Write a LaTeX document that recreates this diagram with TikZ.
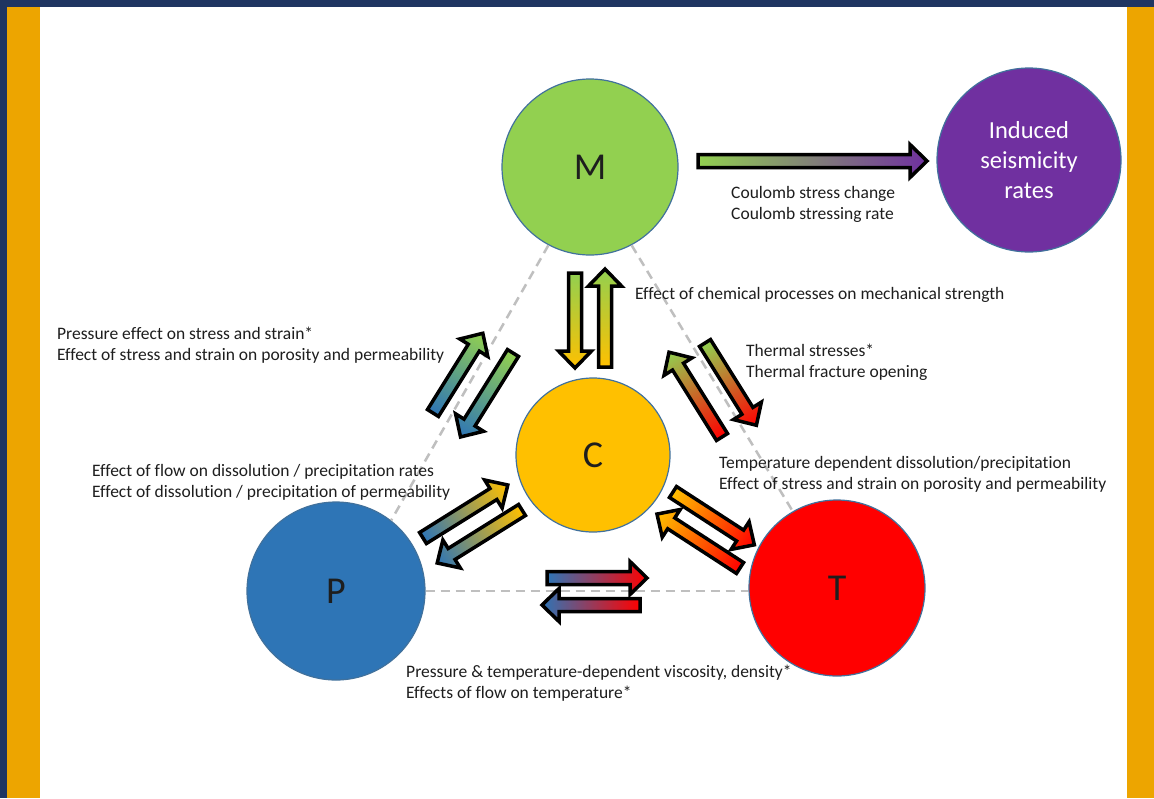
\documentclass[tikz,border=0pt]{standalone}
\usepackage{fontspec}
\setmainfont{Carlito}[Ligatures=NoCommon]

\definecolor{navy}{HTML}{1F3561}
\definecolor{gold}{HTML}{EDA500}
\definecolor{mgreen}{HTML}{92D050}
\definecolor{cyellow}{HTML}{FFC000}
\definecolor{pblue}{HTML}{2E75B6}
\definecolor{tred}{HTML}{FF0000}
\definecolor{spurple}{HTML}{7030A0}
\definecolor{rim}{HTML}{41719C}
\definecolor{ink}{HTML}{1E1E1E}

% block arrow: tail, angle, length, tail colour, head colour
\newcommand{\blockarrow}[5]{%
  \begin{scope}[transform canvas={shift={(#1)},rotate=#2}]
    \draw[draw=black, line width=3.5pt, left color=#4, right color=#5]
      (0,-6.5) -- ({#3-17},-6.5) -- ({#3-17},-16.5) -- (#3,0)
      -- ({#3-17},16.5) -- ({#3-17},6.5) -- (0,6.5) -- cycle;
  \end{scope}}

\begin{document}
\begin{tikzpicture}[x=1pt, y=-1pt,
    ball/.style={circle, draw=rim, line width=1.2pt, inner sep=0pt, text=ink,
      font=\fontsize{38}{40}\selectfont},
    note/.style={anchor=west, align=left, inner sep=0pt, text=ink,
      font=\fontsize{17.5}{21}\selectfont},
    sideline/.style={draw=gray!50, line width=2.5pt, dash pattern=on 9pt off 6pt}]
    \useasboundingbox (0,0) rectangle (1154,798);

    % frame
    \fill[white] (0,0) rectangle (1154,798);
    \fill[navy] (0,0) rectangle (1154,7);
    \fill[navy] (0,7) rectangle (7,798);
    \fill[gold] (7,7) rectangle (40,798);
    \fill[gold] (1127,7) rectangle (1154,798);

    \node[ball, fill=mgreen, minimum size=176pt] (M) at (590,167) {M};
    \node[ball, fill=cyellow, minimum size=154pt] (C) at (593,455) {C};
    \node[ball, fill=pblue, minimum size=178pt] (P) at (336,591) {P};
    \node[ball, fill=tred, minimum size=176pt] (T) at (837,588) {T};
    \node[ball, fill=spurple, minimum size=184pt, text=white, align=center,
      font=\fontsize{24.5}{30}\selectfont] (I) at (1029,160) {Induced\\seismicity\\rates};

    \draw[sideline] (M.242) -- (P.52);
    \draw[sideline] (M.298) -- (T.120);
    \draw[sideline] (P.east) -- (P.east -| T.west);

    \blockarrow{698,161}{0}{229}{mgreen}{spurple}
    \blockarrow{575,273}{-90}{95}{mgreen}{cyellow}
    \blockarrow{605,367}{90}{98}{cyellow}{mgreen}
    \blockarrow{433,413}{58}{94}{pblue}{mgreen}
    \blockarrow{513,353}{238}{99}{mgreen}{pblue}
    \blockarrow{722,437}{122}{100}{tred}{mgreen}
    \blockarrow{705,343}{-58}{97}{mgreen}{tred}
    \blockarrow{423,538}{32}{100}{pblue}{cyellow}
    \blockarrow{522,510}{212}{100}{cyellow}{pblue}
    \blockarrow{673,492}{-33}{97}{cyellow}{tred}
    \blockarrow{740,568}{147}{99}{tred}{cyellow}
    \blockarrow{547,578}{0}{100}{pblue}{tred}
    \blockarrow{640,605}{180}{98}{tred}{pblue}

    \node[note] (coulomb) at (731,204.5) {Coulomb stress change\\Coulomb stressing rate};
    \node[note] (chem) at (635,295) {Effect of chemical processes on mechanical strength};
    \node[note] (pm) at (57,345.5) {Pressure effect on stress and strain*\\Effect of stress and strain on porosity and permeability};
    \node[note] (tm) at (746,362.5) {Thermal stresses*\\Thermal fracture opening};
    \node[note] (pc) at (92,482.5) {Effect of flow on dissolution / precipitation rates\\Effect of dissolution / precipitation of permeability};
    \node[note] (tc) at (719,474.5) {Temperature dependent dissolution/precipitation\\Effect of stress and strain on porosity and permeability};
    \node[note] (pt) at (406,683.5) {Pressure \& temperature-dependent viscosity, density*\\Effects of flow on temperature*};
\end{tikzpicture}
\end{document}
